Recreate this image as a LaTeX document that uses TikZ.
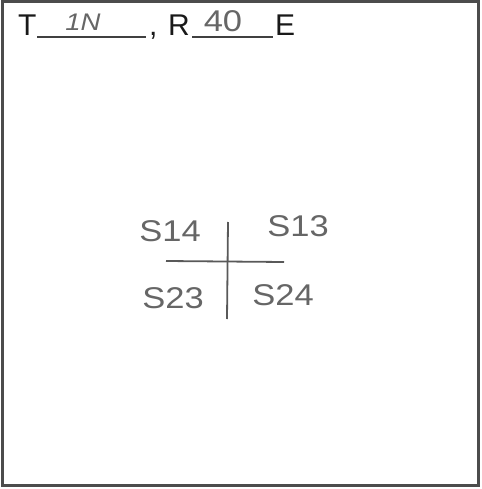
\documentclass[tikz,border=0pt]{standalone}
\usepackage{fontspec}
\setmainfont{Liberation Sans}
\begin{document}
\begin{tikzpicture}[x=1pt,y=-1pt,
  printed/.style={inner sep=0pt,anchor=base west,font=\fontsize{30}{30}\selectfont,text=black!90},
  hand/.style={inner sep=0pt,font=\fontsize{30}{30}\selectfont,text=black!60,xscale=1.15},
  blank/.style={line width=1.2pt,draw=black!75},
  pencil/.style={line width=1.8pt,draw=black!65}]
\useasboundingbox (0,0) rectangle (481,489);
\draw[line width=3pt,draw=black!70] (2,2) rectangle (478,485);
% title line
\node[printed] (t) at (18,36) {T};
\coordinate (u1a) at (37,37); \coordinate (u1b) at (146,37);
\draw[blank] (u1a) -- (u1b);
\node[hand,font=\fontsize{24}{24}\selectfont\itshape] (v1) at (83,22) {1N};
\node[printed] (comma) at (149,36) {,};
\node[printed] (r) at (168,36) {R};
\coordinate (u2a) at (192,37); \coordinate (u2b) at (273,37);
\draw[blank] (u2a) -- (u2b);
\node[hand] (v2) at (223,21) {40};
\node[printed] (e) at (275,36) {E};
% cross
\coordinate (vt) at (228,222); \coordinate (vb) at (227,319);
\coordinate (hl) at (166,261); \coordinate (hr) at (284,262);
\draw[pencil] (vt) -- (vb);
\draw[pencil] (hl) -- (hr);
\node[hand] (s14) at (170,231) {S14};
\node[hand] (s13) at (298,226) {S13};
\node[hand] (s23) at (173,298) {S23};
\node[hand] (s24) at (283,295) {S24};
\end{tikzpicture}
\end{document}
